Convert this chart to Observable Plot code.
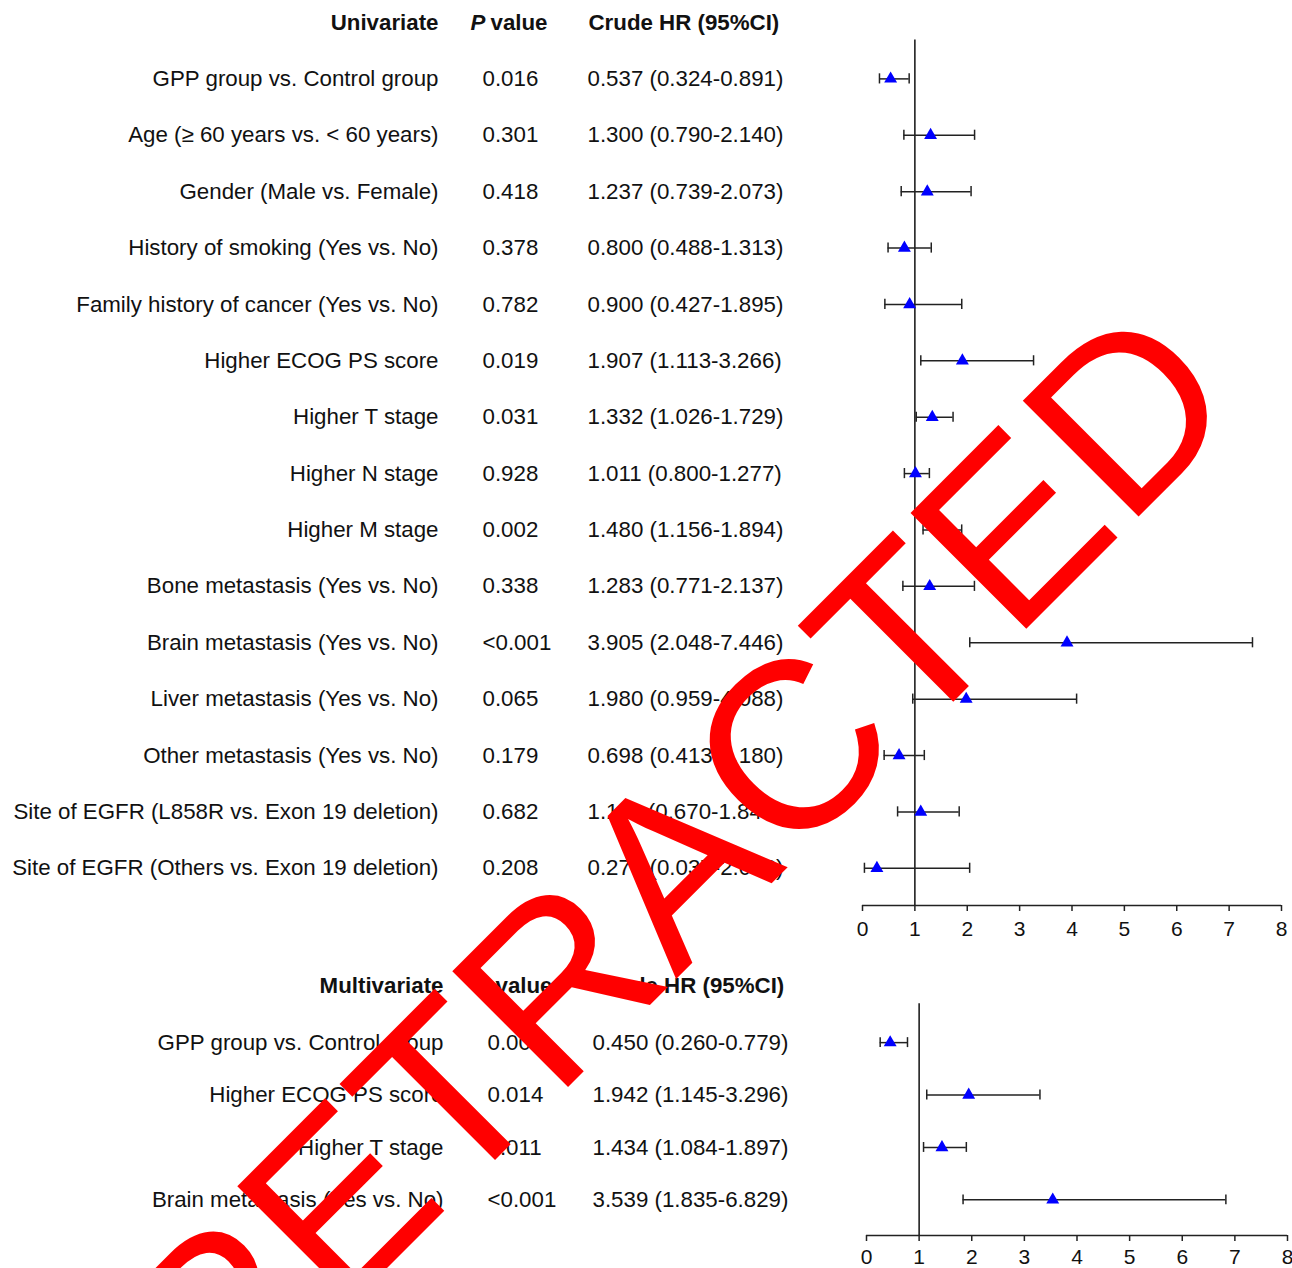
<!DOCTYPE html>
<html>
<head>
<meta charset="utf-8">
<script src="https://cdn.jsdelivr.net/npm/d3@7"></script>
<script src="https://cdn.jsdelivr.net/npm/@observablehq/plot@0.6"></script>
<style>
  html, body { margin: 0; padding: 0; background: #fff; }
  #wrap { position: relative; width: 1292px; height: 1268px; overflow: hidden; }
  #wrap svg { display: block; }
  #mark { position: absolute; left: 0; top: 0; pointer-events: none; }
</style>
</head>
<body>
<div id="wrap"></div>
<script>
// ---------- Data ----------
const uniLabels = [
  "GPP group vs. Control group",
  "Age (\u2265 60 years vs. < 60 years)",
  "Gender (Male vs. Female)",
  "History of smoking (Yes vs. No)",
  "Family history of cancer (Yes vs. No)",
  "Higher ECOG PS score",
  "Higher T stage",
  "Higher N stage",
  "Higher M stage",
  "Bone metastasis (Yes vs. No)",
  "Brain metastasis (Yes vs. No)",
  "Liver metastasis (Yes vs. No)",
  "Other metastasis (Yes vs. No)",
  "Site of EGFR (L858R vs. Exon 19 deletion)",
  "Site of EGFR (Others vs. Exon 19 deletion)"
];
const uniP = ["0.016","0.301","0.418","0.378","0.782","0.019","0.031","0.928","0.002","0.338","<0.001","0.065","0.179","0.682","0.208"];
const uniHR = [0.537,1.300,1.237,0.800,0.900,1.907,1.332,1.011,1.480,1.283,3.905,1.980,0.698,1.112,0.275];
const uniLo = [0.324,0.790,0.739,0.488,0.427,1.113,1.026,0.800,1.156,0.771,2.048,0.959,0.413,0.670,0.037];
const uniHi = [0.891,2.140,2.073,1.313,1.895,3.266,1.729,1.277,1.894,2.137,7.446,4.088,1.180,1.846,2.046];

const multiLabels = [
  "GPP group vs. Control group",
  "Higher ECOG PS score",
  "Higher T stage",
  "Brain metastasis (Yes vs. No)"
];
const multiP = ["0.004","0.014","0.011","<0.001"];
const multiHR = [0.450,1.942,1.434,3.539];
const multiLo = [0.260,1.145,1.084,1.835];
const multiHi = [0.779,3.296,1.897,6.829];

const xTicks = [0,1,2,3,4,5,6,7,8];
const headerCI = "Crude HR (95%CI)";
const watermark = "RETRACTED";

// ---------- Build ----------
const FONT = "'Liberation Sans', Arial, Helvetica, sans-serif";
const FS = 22.3;
const fmt = v => v.toFixed(3);

function rowsOf(labels, ps, hr, lo, hi) {
  return labels.map((label, i) => ({
    i, label, p: ps[i], hr: hr[i], lo: lo[i], hi: hi[i],
    ci: `${fmt(hr[i])} (${fmt(lo[i])}-${fmt(hi[i])})`
  }));
}

function forest({rows, title, height, marginLeft, marginRight, marginTop, marginBottom,
                 yDomain, headerY, refTop, cap, tickPadding, colLabel, colP, colHR, colPHead, colHRHead}) {
  const x0 = marginLeft;
  const axisY = yDomain[1];
  return Plot.plot({
    width: 1292,
    height,
    marginLeft, marginRight, marginTop, marginBottom,
    style: {fontFamily: FONT, fontSize: FS + "px", color: "#111", background: "#fff", overflow: "visible"},
    x: {domain: [0, 8], ticks: xTicks},
    y: {domain: yDomain, reverse: true, axis: null},
    marks: [
      Plot.ruleY([axisY], {stroke: "#222", strokeWidth: 1.5}),
      Plot.axisX({ticks: xTicks, tickSize: 6, tickPadding, fontSize: 21, stroke: "#222", strokeWidth: 1.5, fill: "#111"}),
      Plot.ruleX([1], {y1: refTop, y2: axisY, stroke: "#111", strokeWidth: 1.5}),
      // error bars
      Plot.ruleY(rows, {x1: "lo", x2: "hi", y: "i", stroke: "#222", strokeWidth: 1.5}),
      Plot.ruleX(rows, {x: "lo", y1: d => d.i - cap, y2: d => d.i + cap, stroke: "#222", strokeWidth: 1.5}),
      Plot.ruleX(rows, {x: "hi", y1: d => d.i - cap, y2: d => d.i + cap, stroke: "#222", strokeWidth: 1.5}),
      Plot.dot(rows, {x: "hr", y: "i", symbol: "triangle", r: 4.8, fill: "#0000ff", stroke: "none"}),
      // text columns
      Plot.text(rows, {y: "i", text: "label", frameAnchor: "left", textAnchor: "end", dx: colLabel - x0, fontSize: FS, fill: "#111"}),
      Plot.text(rows, {y: "i", text: "p", frameAnchor: "left", textAnchor: "start", dx: colP - x0, fontSize: FS, fill: "#111"}),
      Plot.text(rows, {y: "i", text: "ci", frameAnchor: "left", textAnchor: "start", dx: colHR - x0, fontSize: FS, fill: "#111"}),
      // headers
      Plot.text([title], {y: headerY, text: d => d, frameAnchor: "left", textAnchor: "end", dx: colLabel - x0, fontSize: FS, fontWeight: "bold", fill: "#111"}),
      Plot.text(["P"], {y: headerY, text: d => d, frameAnchor: "left", textAnchor: "start", dx: colPHead - x0, fontSize: FS, fontWeight: "bold", fontStyle: "italic", fill: "#111"}),
      Plot.text(["value"], {y: headerY, text: d => d, frameAnchor: "left", textAnchor: "start", dx: colPHead + 20 - x0, fontSize: FS, fontWeight: "bold", fill: "#111"}),
      Plot.text([headerCI], {y: headerY, text: d => d, frameAnchor: "left", textAnchor: "start", dx: colHRHead - x0, fontSize: FS, fontWeight: "bold", fill: "#111"})
    ]
  });
}

const wrap = document.getElementById("wrap");

const topChart = forest({
  rows: rowsOf(uniLabels, uniP, uniHR, uniLo, uniHi),
  title: "Univariate",
  height: 960, marginLeft: 862, marginRight: 11, marginTop: 22, marginBottom: 55,
  yDomain: [-1, 14.66], headerY: -1, refTop: -0.69, cap: 0.09, tickPadding: 10,
  colLabel: 438, colP: 482, colHR: 587, colPHead: 470, colHRHead: 588
});
wrap.appendChild(topChart);

const bottomChart = forest({
  rows: rowsOf(multiLabels, multiP, multiHR, multiLo, multiHi),
  title: "Multivariate",
  height: 308, marginLeft: 866, marginRight: 5, marginTop: 25, marginBottom: 33,
  yDomain: [-1.09, 3.68], headerY: -1.09, refTop: -0.74, cap: 0.095, tickPadding: 8,
  colLabel: 443, colP: 487, colHR: 592, colPHead: 475, colHRHead: 593
});
wrap.appendChild(bottomChart);

// ---------- Watermark ----------
const ns = "http://www.w3.org/2000/svg";
const ov = document.createElementNS(ns, "svg");
ov.setAttribute("id", "mark");
ov.setAttribute("width", 1292);
ov.setAttribute("height", 1268);
const wt = document.createElementNS(ns, "text");
wt.setAttribute("x", 732);
wt.setAttribute("y", 923);
wt.setAttribute("transform", "rotate(-45 732 923)");
wt.setAttribute("text-anchor", "middle");
wt.setAttribute("font-family", FONT);
wt.setAttribute("font-size", 238);
wt.setAttribute("fill", "#ff0000");
wt.textContent = watermark;
ov.appendChild(wt);
wrap.appendChild(ov);
</script>
</body>
</html>
